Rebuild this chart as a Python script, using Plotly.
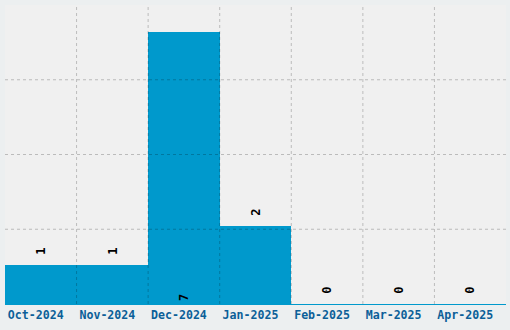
import plotly.graph_objects as go

months = ["Oct-2024", "Nov-2024", "Dec-2024", "Jan-2025", "Feb-2025", "Mar-2025", "Apr-2025"]
counts = [1, 1, 7, 2, 0, 0, 0]
label_pos = ["outside", "outside", "inside", "outside", "outside", "outside", "outside"]

y_top = 7.69
bar_color = "#0099cc"
grid_color = "rgba(0,0,0,0.22)"
mono = "DejaVu Sans Mono"

texts = [("\u00a0" + str(c)) if p == "outside" else str(c) for c, p in zip(counts, label_pos)]

fig = go.Figure()
fig.add_trace(go.Bar(
    x=months, y=counts,
    marker=dict(color=bar_color, line=dict(width=0)),
    text=texts,
    textposition=label_pos,
    insidetextanchor="start",
    textangle=-90,
    textfont=dict(family=mono, size=12, color="#000000", weight="bold"),
    constraintext="none",
    cliponaxis=False,
))

shapes = []
for i in range(1, len(months)):
    shapes.append(dict(type="line", xref="x", yref="paper", x0=i - 0.5, x1=i - 0.5, y0=0, y1=1,
                       line=dict(color=grid_color, width=1, dash="3px,3px"), layer="above"))
for f in (0.25, 0.5, 0.75):
    shapes.append(dict(type="line", xref="paper", yref="paper", x0=0, x1=1, y0=f, y1=f,
                       line=dict(color=grid_color, width=1, dash="3px,3px"), layer="above"))

fig.update_layout(
    width=510, height=330,
    margin=dict(l=5, r=4, t=5, b=26),
    paper_bgcolor="#eceff0",
    plot_bgcolor="#f0f0f0",
    bargap=0,
    showlegend=False,
    shapes=shapes,
    xaxis=dict(
        type="category", showgrid=False, zeroline=False,
        showline=True, linecolor=bar_color, linewidth=1,
        ticks="", tickfont=dict(family=mono, size=11.6, color="#0b5f98", weight="bold"),
        ticklabelshift=-5,
        range=[-0.5, len(months) - 0.5],
    ),
    yaxis=dict(range=[0, y_top], showgrid=False, zeroline=False, showticklabels=False, ticks=""),
)

fig.write_html("out.html")
